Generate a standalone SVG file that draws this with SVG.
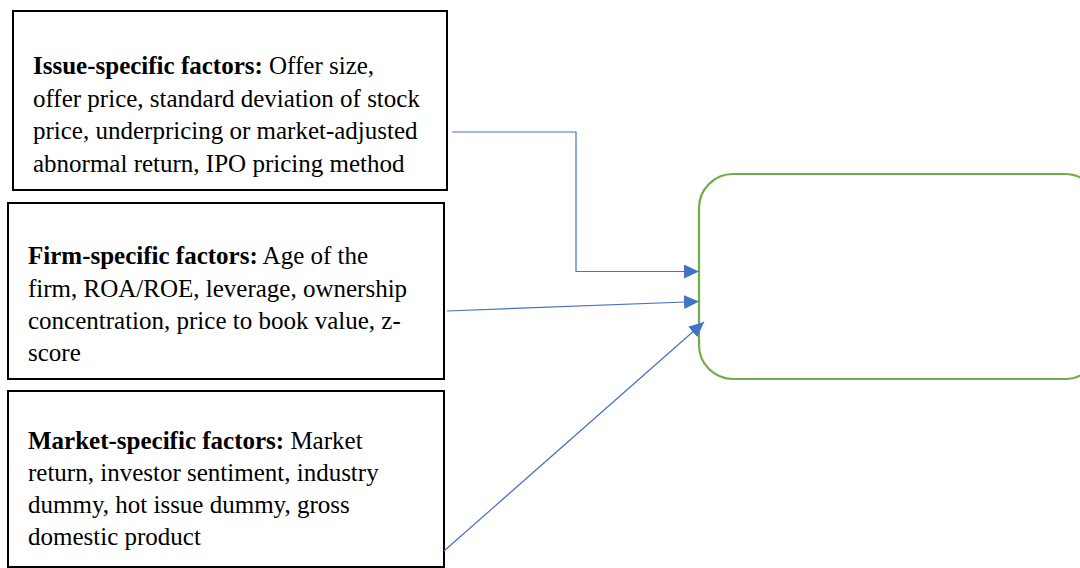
<svg xmlns="http://www.w3.org/2000/svg" width="1080" height="568" viewBox="0 0 1080 568">
<style>
.box{fill:#fff;stroke:#000;stroke-width:2}
.t{font-family:"Liberation Serif","Times New Roman",serif;font-size:25px;fill:#000}
.b{font-weight:bold}
.c{fill:none;stroke:#4472C4;stroke-width:1.2}
</style>
<defs>
<marker id="ah" markerUnits="userSpaceOnUse" markerWidth="16" markerHeight="14" refX="15" refY="7" orient="auto">
<path d="M0,0 L15,7 L0,14 Z" fill="#4472C4"/>
</marker>
</defs>
<rect width="1080" height="568" fill="#fff"/>
<g id="issue">
<rect class="box" x="13" y="11" width="434" height="179"/>
<text class="t" x="33" y="74"><tspan class="b">Issue-specific factors:</tspan> Offer size,</text>
<text class="t" x="33" y="106.5">offer price, standard deviation of stock</text>
<text class="t" x="33" y="139">price, underpricing or market-adjusted</text>
<text class="t" x="33" y="171.5">abnormal return, IPO pricing method</text>
</g>
<g id="firm">
<rect class="box" x="8" y="203" width="436" height="176"/>
<text class="t" x="28" y="264"><tspan class="b">Firm-specific factors:</tspan> Age of the</text>
<text class="t" x="28" y="296.5">firm, ROA/ROE, leverage, ownership</text>
<text class="t" x="28" y="328.5">concentration, price to book value, z-</text>
<text class="t" x="28" y="360.5">score</text>
</g>
<g id="market">
<rect class="box" x="8" y="391" width="436" height="176"/>
<text class="t" x="28" y="449"><tspan class="b">Market-specific factors:</tspan> Market</text>
<text class="t" x="28" y="481">return, investor sentiment, industry</text>
<text class="t" x="28" y="513">dummy, hot issue dummy, gross</text>
<text class="t" x="28" y="545">domestic product</text>
</g>
<g id="outcome">
<rect x="699" y="174" width="400" height="205" rx="34" ry="34" fill="#fff" stroke="#70AD47" stroke-width="2.2"/>
</g>
<g id="connectors">
<polyline class="c" points="452,132 576,132 576,271.5 699,271.5" marker-end="url(#ah)"/>
<line class="c" x1="447" y1="311" x2="699" y2="301.5" marker-end="url(#ah)"/>
<line class="c" x1="444" y1="551" x2="704" y2="322" marker-end="url(#ah)"/>
</g>
</svg>
